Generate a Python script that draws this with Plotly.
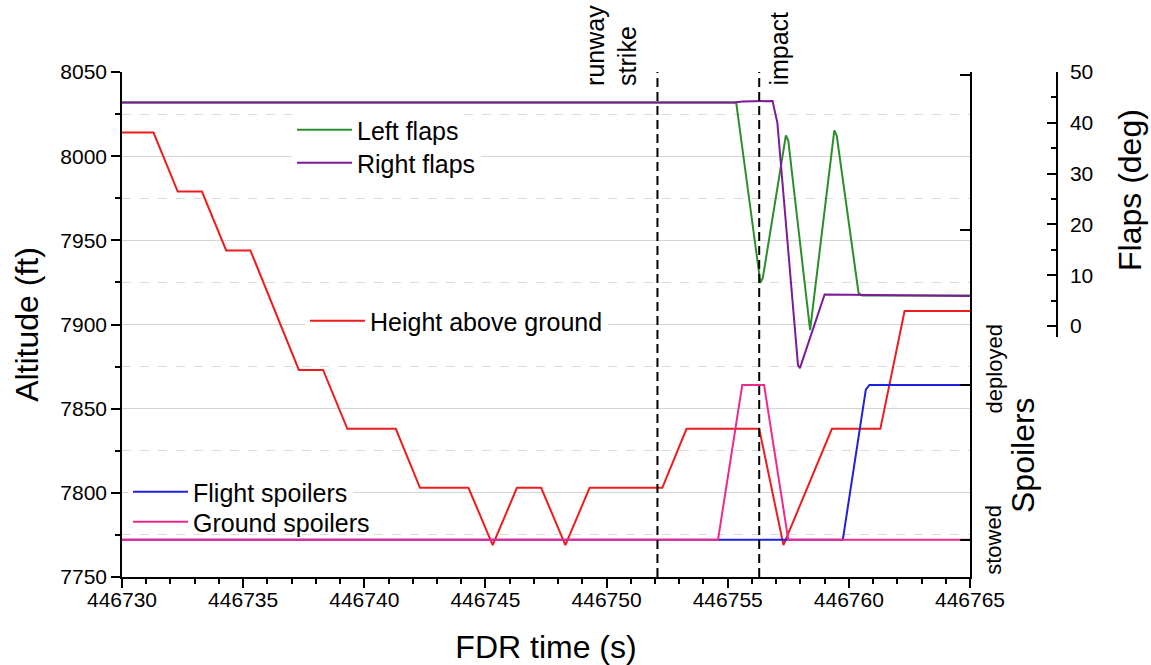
import plotly.graph_objects as go

FONT = "Arial, 'Liberation Sans', sans-serif"

# ---------------- data ----------------
t_height = [446730, 446731.3, 446732.3, 446733.3, 446734.3, 446735.3, 446737.3,
            446738.3, 446739.3, 446741.3, 446742.3, 446744.3, 446745.3, 446746.3,
            446747.3, 446748.3, 446749.3, 446752.3, 446753.3, 446756.3, 446757.3,
            446759.3, 446761.3, 446762.3, 446765]
height = [8014, 8014, 7979, 7979, 7944, 7944, 7873, 7873, 7838, 7838, 7803, 7803,
          7769, 7803, 7803, 7769, 7803, 7803, 7838, 7838, 7769, 7838, 7838, 7908, 7908]

t_flight = [446730, 446759.75, 446760.7, 446760.85, 446765]
flight = [0, 0, 0.97, 1, 1]

t_ground = [446730, 446754.6, 446755.6, 446756.5, 446757.5, 446765]
ground = [0, 0, 1, 1, 0, 0]

t_left = [446730, 446755.35, 446756.35, 446756.45, 446757.4, 446757.5, 446758.4,
          446759.4, 446759.5, 446760.4, 446760.55, 446765]
left_flaps = [44, 44, 8.5, 9.5, 37.5, 36.5, -0.8, 38.5, 37.5, 6.5, 6, 6]

t_right = [446730, 446755.3, 446755.6, 446756.85, 446757.05, 446757.9, 446757.98,
           446759.0, 446765]
right_flaps = [44, 44, 44.2, 44.3, 40, -7.7, -8.3, 6.2, 5.9]

event_times = [446752.1, 446756.3]
event_labels = ["runway<br>strike", "impact"]
event_label_x = [446750.2, 446757.1]

spoiler_ticks = [0, 1, 2, 3]
spoiler_labels = ["stowed", "deployed"]
spoiler_label_vals = [0, 1.1]

# ---------------- figure ----------------
W, H = 1151, 665
ML, MR, MT, MB = 122, 20, 72, 88
PW = W - ML - MR
PH = H - MT - MB


def px2paper_x(px):
    return (px - ML) / PW


def px2paper_y(py):
    return (H - MB - py) / PH


fig = go.Figure()
fig.add_trace(go.Scatter(x=t_height, y=height, name="Height above ground", mode="lines",
                         line=dict(color="#ee1c1c", width=2), yaxis="y", legend="legend3"))
fig.add_trace(go.Scatter(x=t_flight, y=flight, name="Flight spoilers", mode="lines",
                         line=dict(color="#1f1fe0", width=2), yaxis="y2", legend="legend4"))
fig.add_trace(go.Scatter(x=t_ground, y=ground, name="Ground spoilers", mode="lines",
                         line=dict(color="#f0288c", width=2), yaxis="y2", legend="legend5"))
fig.add_trace(go.Scatter(x=t_left, y=left_flaps, name="Left flaps", mode="lines",
                         line=dict(color="#2a8f2a", width=2), yaxis="y3", legend="legend2"))
fig.add_trace(go.Scatter(x=t_right, y=right_flaps, name="Right flaps", mode="lines",
                         line=dict(color="#7d1a9a", width=2), yaxis="y3", legend="legend"))
# carrier for the visible flaps scale
fig.add_trace(go.Scatter(x=[None], y=[None], yaxis="y4", showlegend=False, hoverinfo="skip"))

for t in event_times:
    fig.add_shape(type="line", xref="x", yref="paper", x0=t, x1=t, y0=0, y1=1,
                  line=dict(color="black", width=2, dash="9px,5px"))

for xl, lab in zip(event_label_x, event_labels):
    fig.add_annotation(x=xl, xref="x", y=px2paper_y(88), yref="paper", text=lab,
                       textangle=-90, showarrow=False, xanchor="center", yanchor="bottom",
                       align="left", font=dict(size=25, family=FONT, color="black"))

for v, lab in zip(spoiler_label_vals, spoiler_labels):
    fig.add_annotation(x=px2paper_x(994), xref="paper", y=v, yref="y2", text=lab,
                       textangle=-90, showarrow=False, xanchor="center", yanchor="middle",
                       font=dict(size=22, family=FONT, color="black"))

fig.add_annotation(x=px2paper_x(1023), y=px2paper_y(455), xref="paper", yref="paper",
                   text="Spoilers", textangle=-90, showarrow=False,
                   xanchor="center", yanchor="middle",
                   font=dict(size=32, family=FONT, color="black"))
fig.add_annotation(x=px2paper_x(1130), y=px2paper_y(190), xref="paper", yref="paper",
                   text="Flaps (deg)", textangle=-90, showarrow=False,
                   xanchor="center", yanchor="middle",
                   font=dict(size=32, family=FONT, color="black"))

tickfont = dict(size=21, family=FONT, color="black")
IW = 55


def leg(text_x, center_y, bg="white"):
    return dict(x=px2paper_x(text_x - IW - 10), y=px2paper_y(center_y), xanchor="left",
                yanchor="middle", bgcolor=bg, borderwidth=0, itemwidth=IW,
                font=dict(size=25, family=FONT, color="black"))


fig.update_layout(
    width=W, height=H,
    margin=dict(l=ML, r=MR, t=MT, b=MB, autoexpand=False),
    paper_bgcolor="white", plot_bgcolor="rgba(0,0,0,0)",
    font=dict(family=FONT, color="black"),
    legend=leg(357, 163), legend2=leg(357, 130), legend3=leg(370, 321),
    legend4=leg(193, 492), legend5=leg(193, 522, "rgba(0,0,0,0)"),
    xaxis=dict(domain=[0, (970 - ML) / PW], range=[446730, 446765], dtick=5, tick0=446730,
               tickformat="d", ticks="outside", ticklen=9, tickwidth=1.5, tickcolor="black",
               minor=dict(dtick=1, ticks="outside", ticklen=5, tickcolor="black", tickwidth=1.5),
               showline=True, linecolor="black", linewidth=1.5, showgrid=False, zeroline=False,
               tickfont=tickfont, automargin=False, ticklabelstandoff=-6,
               title=dict(text="FDR time (s)", font=dict(size=32, family=FONT), standoff=29)),
    yaxis=dict(range=[7750, 8050], dtick=50, tick0=7750, ticks="outside", ticklen=9,
               tickwidth=1.5, tickcolor="black",
               minor=dict(dtick=25, ticks="outside", ticklen=5, tickcolor="black", tickwidth=1.5),
               showgrid=True, gridcolor="#d4d4d4", gridwidth=1.2,
               showline=True, linecolor="black", linewidth=1.5, zeroline=False,
               tickfont=tickfont, automargin=False,
               title=dict(text="Altitude (ft)", font=dict(size=32, family=FONT), standoff=12)),
    yaxis2=dict(overlaying="y", side="right", anchor="x", range=[-0.24, 3.02],
                tickvals=spoiler_ticks, showticklabels=False, ticks="inside", ticklen=10,
                tickwidth=1.5, tickcolor="black", automargin=False,
                showline=True, linecolor="black", linewidth=1.5, showgrid=False,
                zeroline=False),
    yaxis3=dict(overlaying="y", anchor="x", range=[-49.4, 50], visible=False,
                showgrid=False, zeroline=False),
    yaxis4=dict(domain=[0.475, 1], anchor="free", position=px2paper_x(1057), side="right",
                range=[-2.2, 50], dtick=10, tick0=0, ticks="inside", ticklen=9,
                tickwidth=1.5, tickcolor="black", automargin=False,
                minor=dict(dtick=5, ticks="inside", ticklen=5, tickcolor="black", tickwidth=1.5),
                showline=True, linecolor="black", linewidth=1.5, showgrid=False,
                zeroline=False, tickfont=tickfont, ticklabelstandoff=8),
)
fig.update_yaxes(selector=dict(title_text="Altitude (ft)"))
fig.layout.yaxis.minor.update(showgrid=True, gridcolor="#dcdcdc", griddash="dash", gridwidth=1)

fig.write_html("out.html")
